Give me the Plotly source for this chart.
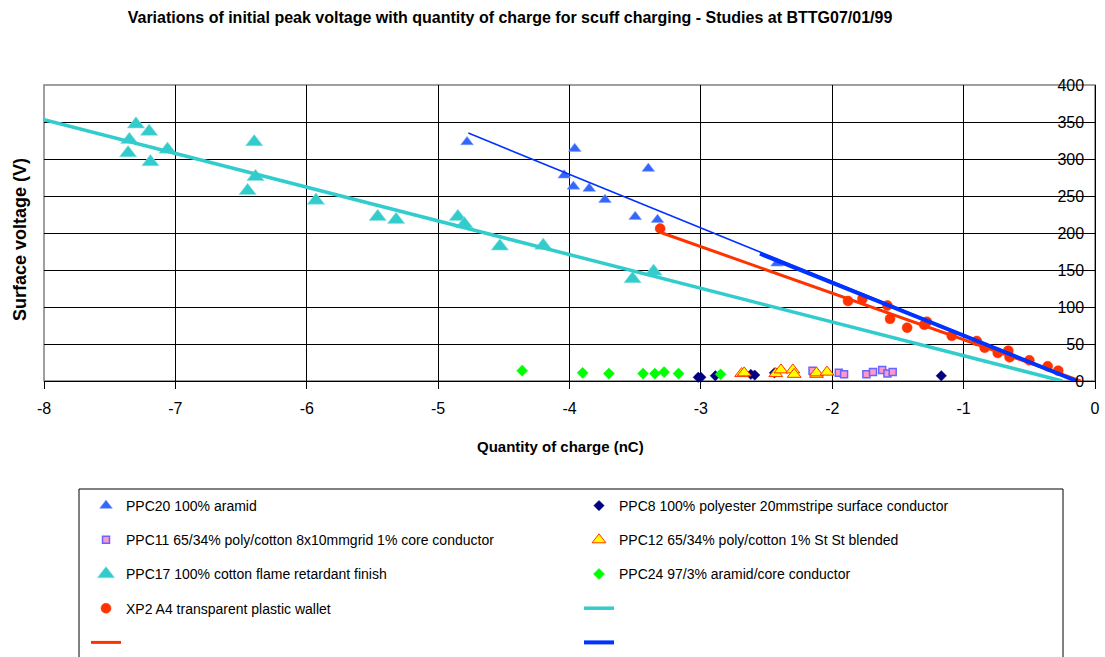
import plotly.graph_objects as go

# ---------------- data ----------------
ppc20_x = [-4.78, -3.96, -4.04, -3.97, -3.85, -3.73, -3.40, -3.50, -3.33, -2.42]
ppc20_y = [323, 314, 278, 263, 260, 245, 287, 222, 218, 159]

ppc8_x = [-3.02, -3.00, -2.89, -2.62, -2.59, -2.44, -1.17]
ppc8_y = [5, 5, 7, 9, 8, 11, 7]

ppc11_x = [-2.15, -1.95, -1.91, -1.74, -1.69, -1.62, -1.58, -1.54]
ppc11_y = [14, 11, 9, 9, 12, 15, 10, 12]

ppc12_x = [-2.69, -2.67, -2.43, -2.39, -2.30, -2.29, -2.12, -2.12, -2.04]
ppc12_y = [10, 11, 10, 15, 15, 9, 9, 11, 12]

ppc17_x = [-7.30, -7.20, -7.35, -7.36, -7.19, -7.06, -6.40, -6.39, -6.45, -5.93,
           -5.46, -5.32, -4.85, -4.80, -4.53, -4.20, -3.52, -3.36]
ppc17_y = [347, 337, 326, 308, 296, 313, 323, 276, 257, 244,
           222, 218, 222, 212, 182, 183, 138, 148]

ppc24_x = [-4.36, -3.90, -3.70, -3.44, -3.35, -3.28, -3.17, -2.85]
ppc24_y = [14, 11, 10, 10, 10, 12, 10, 9]

xp2_x = [-3.31, -1.88, -1.77, -1.58, -1.56, -1.43, -1.30, -1.28, -1.09, -0.90,
         -0.84, -0.74, -0.66, -0.65, -0.50, -0.36, -0.28]
xp2_y = [206, 108, 111, 102, 84, 72, 76, 80, 61, 54,
         45, 38, 41, 32, 28, 20, 14]

# trend lines (end points)
cyan_line_x = [-8.0, -0.25]
cyan_line_y = [353, 0]
red_line_x = [-3.31, -0.11]
red_line_y = [201, 0]
blue_thin_x = [-4.77, -0.14]
blue_thin_y = [335, 0]
blue_thick_x = [-2.55, -0.14]
blue_thick_y = [172, 0]

x_tickvals = [-8, -7, -6, -5, -4, -3, -2, -1, 0]
x_ticktext = ["-8", "-7", "-6", "-5", "-4", "-3", "-2", "-1", "0"]
y_tickvals = [0, 50, 100, 150, 200, 250, 300, 350, 400]

names = {
    "ppc20": "PPC20 100% aramid",
    "ppc8": "PPC8 100% polyester 20mmstripe surface conductor",
    "ppc11": "PPC11 65/34% poly/cotton 8x10mmgrid 1% core conductor",
    "ppc12": "PPC12 65/34% poly/cotton 1% St St blended",
    "ppc17": "PPC17 100% cotton flame retardant finish",
    "ppc24": "PPC24 97/3% aramid/core conductor",
    "xp2": "XP2 A4 transparent plastic wallet",
}

FONT = "Liberation Sans, Arial, sans-serif"
W, H = 1105, 657
L, R, T, B = 44, 10, 85, 276
PW = W - L - R
PH = H - T - B


def px2x(px):
    return (px - L) / PW


def px2y(py):
    return (H - B - py) / PH


fig = go.Figure()


def scat(x, y, key, legend, **marker):
    fig.add_trace(go.Scatter(
        x=x, y=y, mode="markers", name=names[key], legend=legend,
        legendgroup=key, marker=marker, cliponaxis=False))


scat(ppc20_x, ppc20_y, "ppc20", "legend", symbol="triangle-up", size=11,
     color="#3366FF", line=dict(color="#7F9CFF", width=0.6))
scat(ppc8_x, ppc8_y, "ppc8", "legend2", symbol="diamond", size=8,
     color="#000080", line=dict(color="#000080", width=0.5))
scat(ppc11_x, ppc11_y, "ppc11", "legend", symbol="square", size=7,
     color="#FF99CC", line=dict(color="#6666FF", width=1.5))
scat(ppc12_x, ppc12_y, "ppc12", "legend2", symbol="triangle-up", size=12,
     color="#FFFF00", line=dict(color="#FF3300", width=1))
scat(ppc17_x, ppc17_y, "ppc17", "legend", symbol="triangle-up", size=15,
     color="#33CCCC", line=dict(color="#8FE3E3", width=0.6))
scat(ppc24_x, ppc24_y, "ppc24", "legend2", symbol="diamond", size=8.5,
     color="#00FF00", line=dict(color="#00FF00", width=0.5))
scat(xp2_x, xp2_y, "xp2", "legend", symbol="circle", size=10,
     color="#FF3300", line=dict(color="#FF3300", width=0.5))

fig.add_trace(go.Scatter(x=cyan_line_x, y=cyan_line_y, mode="lines", name="",
                         legend="legend2", legendgroup="cyanline",
                         line=dict(color="#33CCCC", width=3.5)))
fig.add_trace(go.Scatter(x=red_line_x, y=red_line_y, mode="lines", name="",
                         legend="legend", legendgroup="redline",
                         line=dict(color="#FF3300", width=3)))
fig.add_trace(go.Scatter(x=blue_thin_x, y=blue_thin_y, mode="lines", name="",
                         showlegend=False,
                         line=dict(color="#0033FF", width=1.6)))
fig.add_trace(go.Scatter(x=blue_thick_x, y=blue_thick_y, mode="lines", name="",
                         legend="legend2", legendgroup="blueline",
                         line=dict(color="#0033FF", width=4)))

legend_common = dict(
    orientation="v", xanchor="left", yanchor="top",
    font=dict(family=FONT, size=14, color="#000000"),
    bgcolor="rgba(0,0,0,0)", borderwidth=0, tracegroupgap=13,
    itemclick=False, itemdoubleclick=False,
)

fig.update_layout(
    width=W, height=H,
    margin=dict(l=L, r=R, t=T, b=B, autoexpand=False),
    paper_bgcolor="#FFFFFF", plot_bgcolor="#FFFFFF",
    font=dict(family=FONT, color="#000000"),
    title=dict(
        text="Variations of initial peak voltage with quantity of charge for scuff charging - Studies at BTTG07/01/99",
        x=510 / W, xref="container", xanchor="center",
        y=1 - 17 / H, yref="container", yanchor="middle",
        font=dict(family=FONT, size=16, weight="bold", color="#000000"),
    ),
    xaxis=dict(
        range=[-8, 0], tickvals=x_tickvals, ticktext=x_ticktext,
        showgrid=True, gridcolor="#000000", gridwidth=1,
        zeroline=False, showline=True, linecolor="#000000", linewidth=1.2,
        ticks="outside", ticklen=7, tickcolor="#000000", tickwidth=1,
        tickfont=dict(family=FONT, size=16, color="#000000"),
        ticklabelstandoff=6, ticklabeloverflow="allow",
    ),
    yaxis=dict(
        range=[0, 400], tickvals=y_tickvals, side="right",
        showgrid=True, gridcolor="#000000", gridwidth=1,
        zeroline=False, showline=True, linecolor="#000000", linewidth=1.2,
        ticks="inside", ticklen=11, tickcolor="#000000", tickwidth=1,
        ticklabelposition="inside", ticklabeloverflow="allow",
        tickfont=dict(family=FONT, size=16, color="#000000"),
    ),
    legend=dict(x=px2x(86), y=px2y(490), **legend_common),
    legend2=dict(x=px2x(579), y=px2y(490), **legend_common),
    showlegend=True,
    shapes=[
        dict(type="rect", xref="paper", yref="paper", x0=0, x1=1, y0=0, y1=1,
             line=dict(color="#808080", width=1.5), layer="below"),
        dict(type="rect", xref="paper", yref="paper",
             x0=px2x(79), x1=px2x(1063), y0=px2y(489), y1=px2y(720),
             line=dict(color="#000000", width=1), layer="above"),
    ],
    annotations=[
        dict(text="Surface voltage (V)", xref="paper", yref="paper",
             x=px2x(20), y=px2y(240), xanchor="center", yanchor="middle",
             textangle=-90, showarrow=False,
             font=dict(family=FONT, size=18, weight="bold", color="#000000")),
        dict(text="Quantity of charge (nC)", xref="paper", yref="paper",
             x=px2x(560), y=px2y(446), xanchor="center", yanchor="middle",
             showarrow=False,
             font=dict(family=FONT, size=15, weight="bold", color="#000000")),
    ],
)

fig.write_html("out.html")
